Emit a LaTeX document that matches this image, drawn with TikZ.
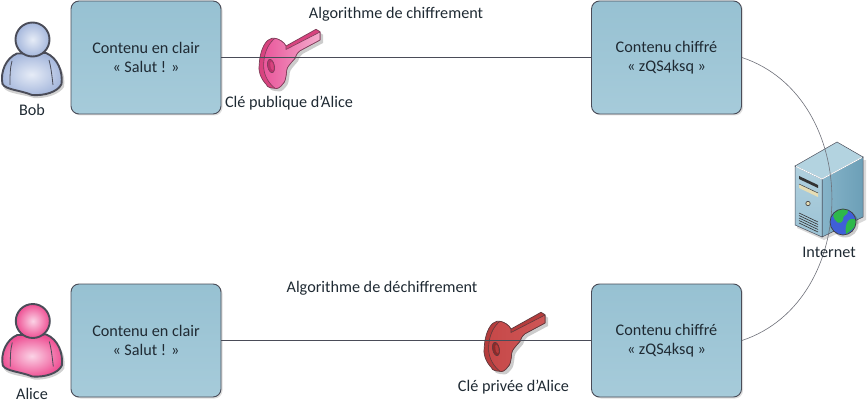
\documentclass[tikz,border=0pt]{standalone}
\usepackage{fontspec}
\setmainfont[Numbers=OldStyle]{Carlito}
\usepackage{tikz}
\usetikzlibrary{shadows}

\definecolor{inktext}{HTML}{1F2A33}
\definecolor{edgedark}{HTML}{4A4C58}
\definecolor{boxtop}{HTML}{97C1D2}
\definecolor{boxbottom}{HTML}{A6CBDA}
\definecolor{bluelight}{HTML}{E6ECF7}
\definecolor{bluedark}{HTML}{A5B7DC}
\definecolor{pinklight}{HTML}{FBD3E6}
\definecolor{pinkdark}{HTML}{EE4F93}
\definecolor{keypinkA}{HTML}{E9559A}
\definecolor{keypinkB}{HTML}{F4ABCD}
\definecolor{keypinkC}{HTML}{D8437F}
\definecolor{keypinkD}{HTML}{B8336C}
\definecolor{keypinkE}{HTML}{7C3D58}
\definecolor{keyredA}{HTML}{C64848}
\definecolor{keyredB}{HTML}{CE5656}
\definecolor{keyredC}{HTML}{B53C3C}
\definecolor{keyredD}{HTML}{8C2A2A}
\definecolor{keyredE}{HTML}{5E3A3E}
\definecolor{serverside}{HTML}{86B4C9}
\definecolor{serversidedark}{HTML}{6C9FB7}
\definecolor{serverfront}{HTML}{B0D0DE}
\definecolor{serverfrontdark}{HTML}{9CC3D5}
\definecolor{servertop}{HTML}{B3D3E0}
\definecolor{serverbeige}{HTML}{E6DDB4}
\definecolor{globeblue}{HTML}{3F5FD8}
\definecolor{globegreen}{HTML}{2EB84A}
\tikzset{
    labeltext/.style={text=inktext, font=\fontsize{16.2}{19}\selectfont, inner sep=0pt, align=center},
    contentbox/.style={labeltext, draw=edgedark, line width=0.9pt, rounded corners=8pt,
        top color=boxtop, bottom color=boxbottom,
        minimum width=150pt, minimum height=113pt,
        drop shadow={opacity=0.25, shadow xshift=1.5pt, shadow yshift=-1.5pt}},
    wire/.style={draw=edgedark, line width=0.8pt},
    pics/userfig/.style n args={2}{code={
        \fill[black, opacity=0.18] (17,59) .. controls (6,64) and (1,76) .. (4,88)
            .. controls (8,94) and (22,94) .. (34,98) .. controls (46,99) and (60,94) .. (64,87)
            .. controls (66,74) and (60,62) .. (49,57) -- cycle;
        \draw[edgedark, line width=1.9pt, inner color=#1, outer color=#2]
            (17,53.5) .. controls (6,58) and (0,72) .. (2.5,84)
            .. controls (6,90) and (20,90) .. (32,95) .. controls (44,96) and (58,92) .. (61.5,84)
            .. controls (63,72) and (58,58) .. (46,53) -- cycle;
        \draw[edgedark, line width=0.8pt] (12,61) .. controls (10,68) and (10,76) .. (10,85);
        \draw[edgedark, line width=0.8pt] (49,60) .. controls (51,67) and (52,76) .. (53,85);
        \draw[edgedark, line width=1.9pt, inner color=#1, outer color=#2] (32.5,39.5) circle (17);
    }},
    pics/keyfig/.style n args={5}{code={
        % shadow
        \fill[black, opacity=0.2, shift={(3,3)}] (286,46) -- (316,29.3) -- (320,31.7) -- (320,40) -- (300,50.7)
            .. controls (296,54) and (296,56) .. (295,58.3) .. controls (290,64) and (287,67) .. (286.7,70)
            .. controls (286,78) and (285,82) .. (283.3,83.3) .. controls (280,88) and (277,89) .. (275,88.3)
            .. controls (270,88) and (267,87) .. (266.7,85) .. controls (260,78) and (258,70) .. (259.3,63.3)
            .. controls (260,52) and (264,43) .. (268.3,40) -- cycle;
        % silhouette
        \draw[#5, line width=0.7pt, fill=#3, line join=round] (286,46) -- (316,29.3) -- (320,31.7) -- (320,40) -- (300,50.7)
            .. controls (296,54) and (296,56) .. (295,58.3) .. controls (290,64) and (287,67) .. (286.7,70)
            .. controls (286,78) and (285,82) .. (283.3,83.3) .. controls (280,88) and (277,89) .. (275,88.3)
            .. controls (270,88) and (267,87) .. (266.7,85) .. controls (260,78) and (258,70) .. (259.3,63.3)
            .. controls (260,52) and (264,43) .. (268.3,40) .. controls (271,38) and (273,38) .. (275,38.3)
            .. controls (279,39) and (284,42) .. (286,46) -- cycle;
        % front face
        \draw[#5, line width=0.6pt, left color=#1, right color=#2, line join=round] (286,49.5) -- (320,32) -- (320,40) -- (300,50.7)
            .. controls (296,54) and (296,56) .. (295,58.3) .. controls (290,64) and (287,67) .. (286.7,70)
            .. controls (286,78) and (285,82) .. (283.3,83.3) .. controls (280,88) and (277,89) .. (275,88.3)
            .. controls (267,82) and (262,72) .. (264,60) .. controls (265,50) and (270,42) .. (275,38.3)
            .. controls (279,39) and (284,42) .. (286,46) -- cycle;
        % hole
        \draw[#5, line width=0.6pt, fill=#4, rotate around={12:(271,66)}] (271,66) ellipse (3.4 and 6.8);
        \fill[#3, rotate around={12:(272,66)}] (272,66) ellipse (1.6 and 4.5);
    }}
}

\begin{document}
\begin{tikzpicture}[x=1pt, y=-1pt]
    \useasboundingbox (0,0) rectangle (867,406);

    % Boxes
    \node[contentbox] (clairBob) at (146,57.5) {Contenu en clair\\« Salut ! »};
    \node[contentbox] (chiffreBob) at (666.5,57.5) {Contenu chiffré\\« zQS4ksq »};
    \node[contentbox] (clairAlice) at (146,340.5) {Contenu en clair\\« Salut ! »};
    \node[contentbox] (chiffreAlice) at (666.5,340.5) {Contenu chiffré\\« zQS4ksq »};

    % People
    \pic at (0,0) {userfig={bluelight}{bluedark}};
    \pic at (0.3,281.5) {userfig={pinklight}{pinkdark}};

    % Keys
    \pic at (0,0) {keyfig={keypinkA}{keypinkB}{keypinkC}{keypinkD}{keypinkE}};
    \pic at (225,283) {keyfig={keyredA}{keyredB}{keyredC}{keyredD}{keyredE}};

    % Server
    \fill[black, opacity=0.15] (797,168) -- (797,228) -- (824,240) -- (866,220) -- (866,160) -- cycle;
    \draw[edgedark, line width=0.5pt, left color=serverside, right color=serversidedark] (822,179) -- (863,157) -- (863,217) -- (822,237) -- cycle;
    \draw[edgedark, line width=0.5pt, top color=serverfront, bottom color=serverfrontdark] (795,166) -- (822,179) -- (822,237) -- (795,225) -- cycle;
    \draw[edgedark, line width=0.5pt, fill=servertop] (795,166) -- (837,142) -- (863,157) -- (822,179) -- cycle;
    \draw[white, line width=0.9pt] (796,166.5) -- (822,179) -- (862,157.5);
    \fill[black!80] (799,176) -- (818,185) -- (818,188) -- (799,179) -- cycle;
    \fill[serverbeige] (799,184) -- (818,193) -- (818,197) -- (799,188) -- cycle;
    \draw[black!75, line width=0.5pt] (799,184) -- (818,193);
    \draw[black!70, fill=serverbeige, line width=0.7pt] (808,203.5) circle (2.2);
    \foreach \v in {0,2.5,5,7.5,10} {
        \draw[black!80, line width=0.6pt] (799,213+\v) -- (818,222+\v);
    }

    % Lines
    \draw[wire] (clairBob) -- (chiffreBob);
    \draw[wire] (clairAlice) -- (chiffreAlice);
    \draw[draw=edgedark!80, line width=0.6pt] (chiffreBob.east) .. controls +(120,40) and +(120,-40) .. (chiffreAlice.east);

    % Globe
    \fill[black, opacity=0.2] (845,224) circle (13.5);
    \begin{scope}
        \clip (843,222) circle (13);
        \fill[globeblue] (830,209) rectangle (856,235);
        \fill[globegreen] (833,216) .. controls (836,208) and (846,207) .. (848,210) .. controls (849,216) and (842,214) .. (843,220)
            .. controls (840,226) and (835,222) .. (833,216) -- cycle;
        \fill[globegreen] (848,221) .. controls (853,216) and (858,220) .. (856,225) .. controls (852,230) and (849,232) .. (846,234)
            .. controls (845,228) and (846,224) .. (848,221) -- cycle;
    \end{scope}
    \draw[black!75, line width=0.7pt] (843,222) circle (13);

    % Labels
    \node[labeltext] (nomBob) at (32,110) {Bob};
    \node[labeltext] (nomAlice) at (32,394) {Alice};
    \node[labeltext] (algoChiffre) at (396,14.5) {Algorithme de chiffrement};
    \node[labeltext] (algoDechiffre) at (382,288) {Algorithme de déchiffrement};
    \node[labeltext] (clePublique) at (289,103) {Clé publique d’Alice};
    \node[labeltext] (clePrivee) at (513.5,387) {Clé privée d’Alice};
    \node[labeltext] (nomInternet) at (829,252.5) {Internet};
\end{tikzpicture}
\end{document}
